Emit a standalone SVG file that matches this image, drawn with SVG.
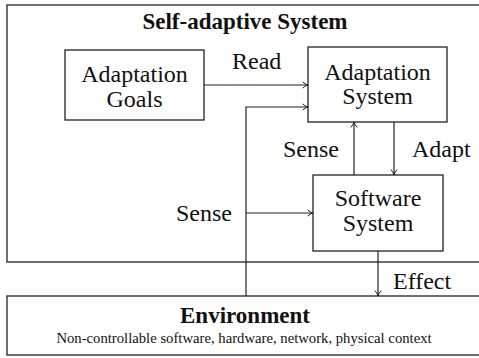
<svg xmlns="http://www.w3.org/2000/svg" width="479" height="358" viewBox="0 0 479 358">
  <style>
    .box { fill: #ffffff; stroke: #222; stroke-width: 1.3; }
    .frame { fill: none; stroke: #222; stroke-width: 1.3; }
    .t { font-family: "Liberation Serif", "DejaVu Serif", serif; font-size: 24px; fill: #111; }
    .b { font-weight: bold; font-size: 23px; }
    .c { text-anchor: middle; }
    .small { font-family: "Liberation Serif", "DejaVu Serif", serif; font-size: 14.7px; fill: #111; }
    .edge { fill: none; stroke: #222; stroke-width: 1.2; }
  </style>
  <defs>
    <marker id="arrow" viewBox="0 0 10 10" refX="9" refY="5" markerWidth="9" markerHeight="9" markerUnits="userSpaceOnUse" orient="auto">
      <path d="M3,1.5 Q5.5,4 9,5 Q5.5,6 3,8.5" fill="none" stroke="#222" stroke-width="1.1"/>
    </marker>
  </defs>

  <!-- outer frames -->
  <g id="self-adaptive-system">
    <rect class="frame" x="7" y="5" width="490" height="257"/>
    <text class="t b c" x="245" y="29">Self-adaptive System</text>
  </g>
  <g id="environment">
    <rect class="frame" x="7" y="296" width="490" height="59"/>
    <text class="t b c" x="245" y="323">Environment</text>
    <text class="small c" x="244" y="343">Non-controllable software, hardware, network, physical context</text>
  </g>

  <!-- connectors -->
  <g id="connectors">
    <line class="edge" x1="204" y1="85" x2="308" y2="85" marker-end="url(#arrow)"/>
    <path class="edge" d="M246,296 V107 H308" marker-end="url(#arrow)"/>
    <line class="edge" x1="246" y1="213" x2="313" y2="213" marker-end="url(#arrow)"/>
    <line class="edge" x1="354" y1="175" x2="354" y2="122" marker-end="url(#arrow)"/>
    <line class="edge" x1="394" y1="122" x2="394" y2="175" marker-end="url(#arrow)"/>
    <line class="edge" x1="378" y1="251" x2="378" y2="296" marker-end="url(#arrow)"/>
    <text class="t" x="232" y="69">Read</text>
    <text class="t" x="283" y="157">Sense</text>
    <text class="t" x="412" y="157">Adapt</text>
    <text class="t" x="176" y="221">Sense</text>
    <text class="t" x="393" y="289">Effect</text>
  </g>

  <!-- nodes -->
  <g id="adaptation-goals">
    <rect class="box" x="65" y="50" width="139" height="70"/>
    <text class="t c" x="134.5" y="82">Adaptation</text>
    <text class="t c" x="134.5" y="107">Goals</text>
  </g>
  <g id="adaptation-system">
    <rect class="box" x="308" y="47" width="139" height="75"/>
    <text class="t c" x="377.5" y="80">Adaptation</text>
    <text class="t c" x="377.5" y="104">System</text>
  </g>
  <g id="software-system">
    <rect class="box" x="313" y="175" width="130" height="76"/>
    <text class="t c" x="378" y="206">Software</text>
    <text class="t c" x="378" y="231">System</text>
  </g>
</svg>
